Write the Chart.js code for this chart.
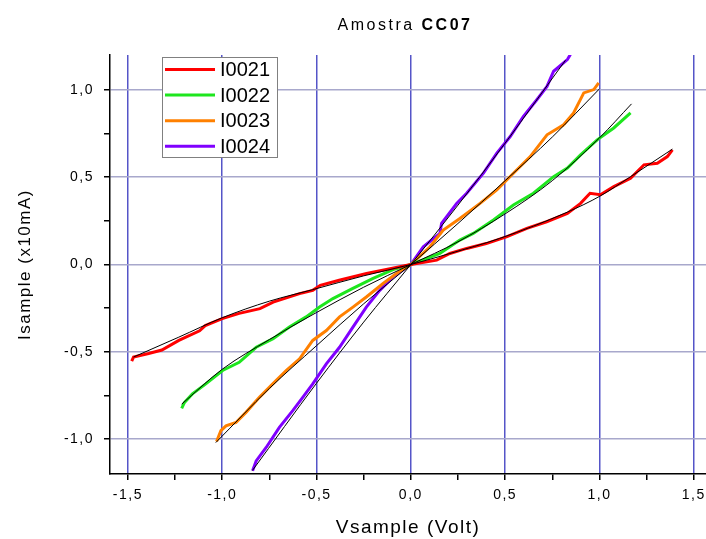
<!DOCTYPE html>
<html>
<head>
<meta charset="utf-8">
<script src="https://cdn.jsdelivr.net/npm/chart.js@4.4.1/dist/chart.umd.min.js"></script>
<style>
  body { margin: 0; background: #fff; }
  canvas { display: block; }
</style>
</head>
<body>
<canvas id="ivChart" width="706" height="539"></canvas>
<script>
// Tick labels
const xTicks = [-1.5, -1.25, -1.0, -0.75, -0.5, -0.25, 0, 0.25, 0.5, 0.75, 1.0, 1.25, 1.5];
const xMajor = [-1.5, -1.0, -0.5, 0, 0.5, 1.0, 1.5];
const yTicks = [-1.0, -0.75, -0.5, -0.25, 0, 0.25, 0.5, 0.75, 1.0];
const yMajor = [-1.0, -0.5, 0, 0.5, 1.0];

const seriesNames = ['I0021', 'I0022', 'I0023', 'I0024'];

// Measured curves (V in volt, I in x10mA)
const v21 = [-1.48, -1.47, -1.39, -1.32, -1.23, -1.12, -1.09, -1.0, -0.91, -0.80, -0.73, -0.59, -0.52, -0.48, -0.38, -0.235, -0.13, 0, 0.137, 0.207, 0.296, 0.40, 0.51, 0.615, 0.72, 0.83, 0.90, 0.95, 1.005, 1.076, 1.165, 1.236, 1.307, 1.36, 1.387];
const i21 = [-0.554, -0.53, -0.51, -0.49, -0.435, -0.38, -0.35, -0.31, -0.28, -0.253, -0.215, -0.167, -0.148, -0.119, -0.09, -0.052, -0.029, 0, 0.025, 0.063, 0.092, 0.12, 0.16, 0.207, 0.245, 0.293, 0.35, 0.408, 0.40, 0.446, 0.494, 0.571, 0.58, 0.618, 0.657];

const v22 = [-1.215, -1.20, -1.158, -1.087, -0.998, -0.91, -0.82, -0.73, -0.644, -0.555, -0.484, -0.413, -0.31, -0.20, -0.094, 0, 0.154, 0.26, 0.331, 0.438, 0.544, 0.65, 0.757, 0.83, 0.90, 0.988, 1.076, 1.165];
const i22 = [-0.824, -0.79, -0.741, -0.684, -0.607, -0.56, -0.474, -0.425, -0.358, -0.30, -0.244, -0.195, -0.138, -0.08, -0.029, 0, 0.063, 0.14, 0.178, 0.255, 0.341, 0.408, 0.503, 0.552, 0.628, 0.714, 0.782, 0.868];

const v23 = [-1.03, -1.007, -0.98, -0.927, -0.874, -0.803, -0.732, -0.661, -0.59, -0.52, -0.448, -0.378, -0.307, -0.236, -0.147, -0.076, 0, 0.10, 0.172, 0.26, 0.367, 0.456, 0.544, 0.633, 0.722, 0.81, 0.863, 0.917, 0.97, 0.996];
const i23 = [-1.014, -0.952, -0.924, -0.905, -0.847, -0.761, -0.684, -0.607, -0.54, -0.435, -0.378, -0.30, -0.244, -0.186, -0.109, -0.052, 0, 0.10, 0.197, 0.264, 0.35, 0.427, 0.523, 0.618, 0.743, 0.80, 0.868, 0.983, 1.002, 1.04];

const v24 = [-0.839, -0.82, -0.767, -0.697, -0.626, -0.573, -0.52, -0.448, -0.378, -0.307, -0.236, -0.165, -0.094, 0, 0.066, 0.154, 0.163, 0.243, 0.296, 0.385, 0.456, 0.527, 0.597, 0.668, 0.722, 0.757, 0.83, 0.846];
const i24 = [-1.182, -1.125, -1.048, -0.933, -0.837, -0.761, -0.684, -0.569, -0.474, -0.359, -0.244, -0.148, -0.071, 0, 0.101, 0.178, 0.236, 0.35, 0.408, 0.523, 0.638, 0.733, 0.848, 0.944, 1.02, 1.107, 1.174, 1.203];

// Fitted curves (thin black lines)
const fitV21 = [-1.47, -1.23, -1.0, -0.75, -0.52, -0.25, 0, 0.207, 0.47, 0.83, 1.005, 1.165, 1.387];
const fitI21 = [-0.53, -0.416, -0.305, -0.21, -0.144, -0.065, 0, 0.063, 0.149, 0.30, 0.393, 0.503, 0.661];
const fitV22 = [-1.215, -1.0, -0.75, -0.5, -0.25, 0, 0.25, 0.5, 0.75, 1.0, 1.17];
const fitI22 = [-0.80, -0.60, -0.43, -0.275, -0.13, 0, 0.13, 0.29, 0.48, 0.725, 0.92];
const fitV23 = [-1.034, -0.75, -0.5, -0.25, 0, 0.25, 0.5, 0.75, 1.0];
const fitI23 = [-1.02, -0.71, -0.465, -0.225, 0, 0.235, 0.48, 0.73, 1.006];
const fitV24 = [-0.84, -0.5, -0.25, 0, 0.25, 0.5, 0.82];
const fitI24 = [-1.18, -0.68, -0.33, 0, 0.34, 0.695, 1.17];

const colors = ['#ff0000', '#1ee61e', '#ff8000', '#8000ff'];

function pts(xs, ys) {
    return xs.map((x, k) => ({ x: x, y: ys[k] }));
}

function fmt(v) {
    return v.toFixed(1).replace('.', ',');
}

const measured = [[v21, i21], [v22, i22], [v23, i23], [v24, i24]];
const fits = [[fitV21, fitI21], [fitV22, fitI22], [fitV23, fitI23], [fitV24, fitI24]];

const datasets = [];
measured.forEach((m, k) => {
    datasets.push({
        label: seriesNames[k],
        data: pts(m[0], m[1]),
        borderColor: colors[k],
        borderWidth: 3,
        showLine: true,
        pointRadius: 0,
        tension: 0,
        order: 1
    });
});
fits.forEach((f) => {
    datasets.push({
        label: '',
        isFit: true,
        data: pts(f[0], f[1]),
        borderColor: '#000',
        borderWidth: 1,
        showLine: true,
        pointRadius: 0,
        cubicInterpolationMode: 'monotone',
        order: 0
    });
});

// letter spacing on all canvas text, like the original plot
const spacing = {
    id: 'spacing',
    beforeDraw(chart) {
        chart.ctx.letterSpacing = '1.5px';
    }
};

// Title "Amostra CC07" with bold sample name
const titlePlugin = {
    id: 'mixedTitle',
    afterDraw(chart) {
        const c = chart.ctx;
        c.save();
        c.letterSpacing = '2.5px';
        c.fillStyle = '#000';
        c.textBaseline = 'alphabetic';
        const a = 'Amostra ';
        const b = 'CC07';
        c.font = '16px "Liberation Sans", Arial, sans-serif';
        const wa = c.measureText(a).width;
        c.font = 'bold 16px "Liberation Sans", Arial, sans-serif';
        const wb = c.measureText(b).width;
        let x = 405 - (wa + wb) / 2;
        c.font = '16px "Liberation Sans", Arial, sans-serif';
        c.fillText(a, x, 30);
        c.font = 'bold 16px "Liberation Sans", Arial, sans-serif';
        c.fillText(b, x + wa, 30);
        c.restore();
    }
};

// Legend box inside the plot
const legendBox = {
    id: 'legendBox',
    afterDatasetsDraw(chart) {
        const c = chart.ctx;
        const left = 162, top = 57, w = 115, h = 100;
        c.save();
        c.fillStyle = '#fff';
        c.fillRect(left, top, w, h);
        c.strokeStyle = '#808080';
        c.lineWidth = 1;
        c.strokeRect(left + 0.5, top + 0.5, w, h);
        c.font = '20px "Liberation Sans", Arial, sans-serif';
        c.letterSpacing = '0px';
        c.textBaseline = 'middle';
        c.fillStyle = '#000';
        chart.data.datasets.filter(d => !d.isFit).forEach((d, k) => {
            const y = 69.5 + k * 25.6;
            c.strokeStyle = d.borderColor;
            c.lineWidth = 3;
            c.beginPath();
            c.moveTo(165, y);
            c.lineTo(215, y);
            c.stroke();
            c.fillText(d.label, 220, y + 1);
        });
        c.restore();
    }
};

const tickFont = { family: '"Liberation Sans", Arial, sans-serif', size: 14 };

new Chart(document.getElementById('ivChart'), {
    type: 'scatter',
    data: { datasets: datasets },
    options: {
        responsive: false,
        animation: false,
        layout: { padding: { top: 55, right: 0, left: 0, bottom: 0 } },
        plugins: {
            legend: { display: false },
            tooltip: { enabled: false },
            title: { display: false }
        },
        scales: {
            x: {
                type: 'linear',
                min: -1.595,
                max: 1.565,
                afterBuildTicks: (s) => { s.ticks = xTicks.map(v => ({ value: v })); },
                afterFit: (s) => {
                    s.height = 65;
                    s.paddingLeft = 0;
                    s.paddingRight = 0;
                },
                ticks: {
                    autoSkip: false,
                    maxRotation: 0,
                    padding: 7,
                    color: '#000',
                    font: tickFont,
                    callback: (v) => xMajor.includes(v) ? fmt(v) : ''
                },
                grid: {
                    color: (ctx) => ctx.tick && xMajor.includes(ctx.tick.value) ? '#5555c8' : 'rgba(0,0,0,0)',
                    lineWidth: 1.5,
                    tickColor: '#000',
                    tickLength: 6,
                    tickWidth: 1.5
                },
                border: { color: '#000', width: 1.5 },
                title: {
                    display: true,
                    text: 'Vsample (Volt)',
                    color: '#000',
                    font: { family: '"Liberation Sans", Arial, sans-serif', size: 19 },
                    padding: { top: 11, bottom: 0 }
                }
            },
            y: {
                type: 'linear',
                min: -1.2,
                max: 1.2,
                afterBuildTicks: (s) => { s.ticks = yTicks.map(v => ({ value: v })); },
                afterFit: (s) => {
                    s.width = 110;
                    s.paddingTop = 0;
                    s.paddingBottom = 0;
                },
                ticks: {
                    autoSkip: false,
                    padding: 10,
                    color: '#000',
                    font: tickFont,
                    callback: (v) => yMajor.includes(v) ? fmt(v) : ''
                },
                grid: {
                    color: (ctx) => ctx.tick && yMajor.includes(ctx.tick.value) ? '#a8a8cc' : 'rgba(0,0,0,0)',
                    lineWidth: 1.5,
                    tickColor: '#000',
                    tickLength: 6,
                    tickWidth: 1.5
                },
                border: { color: '#000', width: 1.5 },
                title: {
                    display: true,
                    text: 'Isample (x10mA)',
                    color: '#000',
                    font: { family: '"Liberation Sans", Arial, sans-serif', size: 17 },
                    padding: { top: 15, bottom: 0 }
                }
            }
        }
    },
    plugins: [spacing, titlePlugin, legendBox]
});
</script>
</body>
</html>
